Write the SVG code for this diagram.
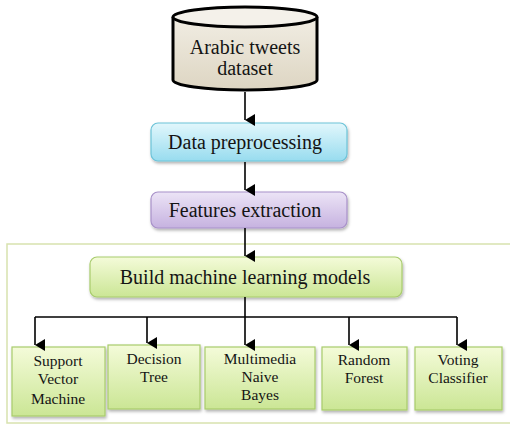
<svg xmlns="http://www.w3.org/2000/svg" width="510" height="425" viewBox="0 0 510 425">
<defs>
<linearGradient id="gCyl" x1="0" y1="0" x2="0" y2="1"><stop offset="0" stop-color="#f1ede3"/><stop offset="1" stop-color="#ddd5c2"/></linearGradient>
<linearGradient id="gBlue" x1="0" y1="0" x2="0" y2="1"><stop offset="0" stop-color="#e2f7fc"/><stop offset="1" stop-color="#98dcef"/></linearGradient>
<linearGradient id="gPurple" x1="0" y1="0" x2="0" y2="1"><stop offset="0" stop-color="#ece4f6"/><stop offset="1" stop-color="#c6b2e0"/></linearGradient>
<linearGradient id="gGreen" x1="0" y1="0" x2="0" y2="1"><stop offset="0" stop-color="#f4fbd9"/><stop offset="1" stop-color="#cbe695"/></linearGradient>
<filter id="sh" x="-10%" y="-10%" width="130%" height="140%"><feDropShadow dx="1" dy="2" stdDeviation="1.5" flood-color="#000" flood-opacity="0.3"/></filter>
<marker id="ah" markerWidth="12" markerHeight="12" refX="6" refY="10" orient="auto-start-reverse" markerUnits="userSpaceOnUse" viewBox="0 0 12 12"><path d="M0,0 L12,0 L6,10 Z" fill="#000"/></marker>
</defs>
<style>
.t{font-family:'Liberation Serif','Times New Roman',serif;fill:#141414;text-anchor:middle}
.big{font-size:20px}
.sm{font-size:15.5px}
.con{stroke:#000;stroke-width:1.6;fill:none}
.arr{stroke:#000;stroke-width:1.6;fill:none;marker-end:url(#ah)}
.green{fill:url(#gGreen);stroke:#a8cc6c;stroke-width:1.2;filter:url(#sh)}
</style>
<rect id="container" x="7" y="244" width="510" height="179" fill="#fff" stroke="#d8e2ae" stroke-width="1.5"/>
<g id="dataset">
<path d="M173,17 L173,80 A72,10 0 0 0 317,80 L317,17" fill="url(#gCyl)" stroke="#000" stroke-width="3"/>
<ellipse cx="245" cy="17" rx="72" ry="10" fill="#f4f1ea" stroke="#000" stroke-width="3"/>
<text class="t big" x="245" y="54">Arabic tweets</text>
<text class="t big" x="245" y="75">dataset</text>
</g>
<g id="preprocessing">
<rect x="151" y="123" width="196" height="38" rx="7" fill="url(#gBlue)" stroke="#6cc3d8" stroke-width="1.2" filter="url(#sh)"/>
<text class="t big" x="245" y="149">Data preprocessing</text>
</g>
<g id="features">
<rect x="151" y="192" width="196" height="36" rx="7" fill="url(#gPurple)" stroke="#a891c9" stroke-width="1.2" filter="url(#sh)"/>
<text class="t big" x="245" y="217">Features extraction</text>
</g>
<g id="build">
<rect class="green" x="90" y="257" width="312" height="40" rx="7"/>
<text class="t big" x="245" y="284">Build machine learning models</text>
</g>
<g id="svm">
<rect class="green" x="12" y="347" width="93" height="69"/>
<text class="t sm" x="58" y="366">Support</text>
<text class="t sm" x="58" y="384">Vector</text>
<text class="t sm" x="58" y="404">Machine</text>
</g>
<g id="dt">
<rect class="green" x="108" y="345" width="92" height="64"/>
<text class="t sm" x="154" y="364">Decision</text>
<text class="t sm" x="154" y="382">Tree</text>
</g>
<g id="mnb">
<rect class="green" x="205" y="347" width="110" height="62"/>
<text class="t sm" x="260" y="364">Multimedia</text>
<text class="t sm" x="260" y="382">Naive</text>
<text class="t sm" x="260" y="400">Bayes</text>
</g>
<g id="rf">
<rect class="green" x="322" y="347" width="85" height="63"/>
<text class="t sm" x="364" y="365">Random</text>
<text class="t sm" x="364" y="383">Forest</text>
</g>
<g id="vc">
<rect class="green" x="415" y="347" width="87" height="63"/>
<text class="t sm" x="458" y="365">Voting</text>
<text class="t sm" x="458" y="383">Classifier</text>
</g>
<g id="connectors">
<line class="arr" x1="245" y1="92" x2="245" y2="120"/>
<line class="arr" x1="245" y1="162" x2="245" y2="190"/>
<line class="arr" x1="245" y1="228" x2="245" y2="256"/>
<line class="con" x1="245" y1="297" x2="245" y2="317"/>
<line class="con" x1="35" y1="317" x2="457" y2="317"/>
<line class="arr" x1="35" y1="317" x2="35" y2="345"/>
<line class="arr" x1="147" y1="317" x2="147" y2="343"/>
<line class="arr" x1="245" y1="317" x2="245" y2="345"/>
<line class="arr" x1="349" y1="317" x2="349" y2="345"/>
<line class="arr" x1="457" y1="317" x2="457" y2="345"/>
</g>
</svg>
